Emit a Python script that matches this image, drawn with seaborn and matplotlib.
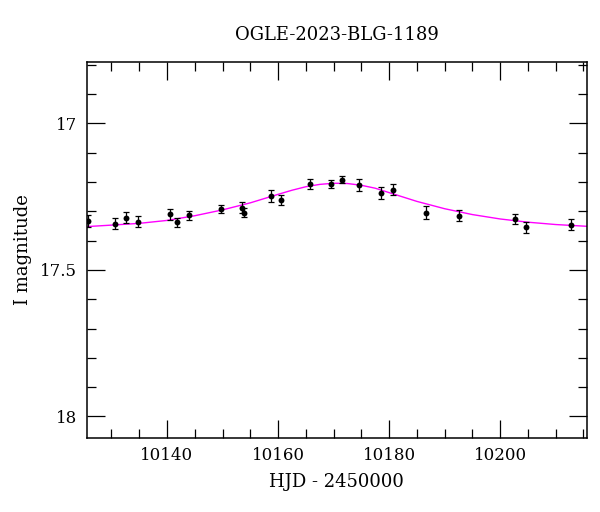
import numpy as np
import pandas as pd
import matplotlib
matplotlib.use("Agg")
import matplotlib.pyplot as plt
from matplotlib.ticker import MultipleLocator
import seaborn as sns

# observations (HJD - 2450000, I mag, error)
hjd = [10125.7, 10130.6, 10132.6, 10134.7, 10140.5, 10141.8, 10143.9, 10149.7,
       10153.5, 10153.8, 10158.7, 10160.6, 10165.7, 10169.6, 10171.6, 10174.5,
       10178.6, 10180.7, 10186.7, 10192.6, 10202.6, 10204.7, 10212.7]
mag = [17.332, 17.342, 17.321, 17.336, 17.310, 17.338, 17.314, 17.292,
       17.287, 17.304, 17.247, 17.260, 17.207, 17.206, 17.192, 17.210,
       17.238, 17.226, 17.304, 17.315, 17.327, 17.354, 17.345]
err = [0.020, 0.018, 0.019, 0.019, 0.018, 0.016, 0.016, 0.014,
       0.020, 0.016, 0.020, 0.017, 0.016, 0.014, 0.011, 0.020,
       0.020, 0.018, 0.022, 0.019, 0.017, 0.019, 0.020]

# model curve
model_t = [10125.6, 10130, 10135, 10140, 10145, 10150, 10155, 10160, 10162.5,
           10165, 10167.5, 10170, 10172.5, 10175, 10177.5, 10180, 10185, 10190,
           10195, 10200, 10205, 10210, 10215.6]
model_m = [17.352, 17.347, 17.341, 17.331, 17.315, 17.295, 17.271, 17.242, 17.228,
           17.216, 17.208, 17.204, 17.205, 17.211, 17.221, 17.236, 17.266, 17.291,
           17.311, 17.326, 17.337, 17.345, 17.351]

df = pd.DataFrame({"hjd": hjd, "mag": mag, "err": err})
model = pd.DataFrame({"t": model_t, "m": model_m})

sns.set_style("ticks", {"axes.edgecolor": "black", "text.color": "black",
                        "axes.labelcolor": "black", "xtick.color": "black",
                        "ytick.color": "black"})
plt.rcParams["font.family"] = ["DejaVu Serif"]
plt.rcParams["mathtext.fontset"] = "dejavuserif"

fig = plt.figure(figsize=(6, 5.12), dpi=100)
ax = fig.add_axes([0.145, 0.1455, 0.833, 0.7335])

sns.lineplot(model, x="t", y="m", color="#ff00ff", lw=1.0, ax=ax, zorder=2)
ax.errorbar(df["hjd"], df["mag"], yerr=df["err"], fmt="none", ecolor="black",
            elinewidth=0.9, capsize=2.2, capthick=0.9, zorder=3)
sns.scatterplot(df, x="hjd", y="mag", color="black", s=18, edgecolor="black",
                linewidth=0, ax=ax, zorder=4)

ax.set_xlim(10125.6, 10215.6)
ax.set_ylim(18.072, 16.79)
ax.xaxis.set_major_locator(MultipleLocator(20))
ax.xaxis.set_minor_locator(MultipleLocator(5))
ax.yaxis.set_major_locator(MultipleLocator(0.5))
ax.yaxis.set_minor_locator(MultipleLocator(0.1))
ax.set_yticks([17, 17.5, 18])
ax.set_yticklabels(["17", "17.5", "18"])
ax.tick_params(which="both", direction="in", top=True, right=True, width=0.9,
               labelsize=12, colors="black")
ax.tick_params(which="major", length=13, pad=7)
ax.tick_params(which="minor", length=6.5)
for s in ax.spines.values():
    s.set_linewidth(1.1)
    s.set_color("black")

ax.set_xlabel("HJD - 2450000", fontsize=13, labelpad=6, color="black")
ax.set_ylabel("I magnitude", fontsize=13, labelpad=6, color="black")
ax.set_title("OGLE-2023-BLG-1189", fontsize=13, pad=16, color="black")

fig.savefig("out.png", dpi=100)
